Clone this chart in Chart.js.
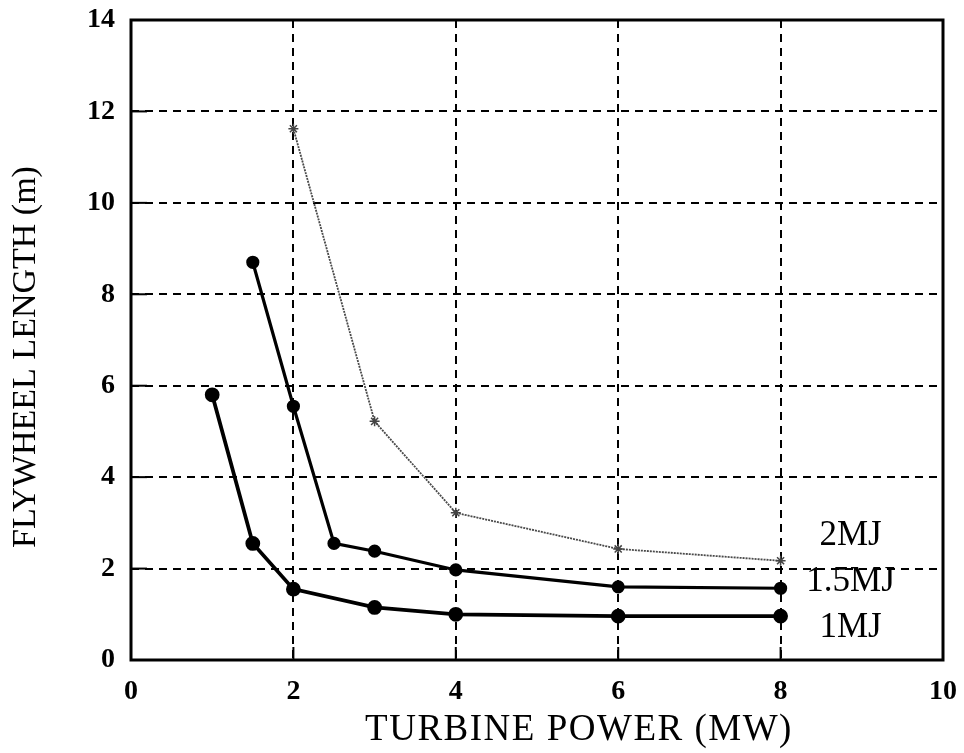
<!DOCTYPE html>
<html>
<head>
<meta charset="utf-8">
<script src="https://cdn.jsdelivr.net/npm/chart.js@4.4.0/dist/chart.umd.min.js"></script>
<style>
  html, body { margin: 0; padding: 0; background: #fff; }
  #wrap { width: 964px; height: 753px; }
</style>
</head>
<body>
<div id="wrap"><canvas id="chart"></canvas></div>
<script>
// turbine power (MW) and flywheel length (m)
const power_1mj = [1, 1.5, 2, 3, 4, 6, 8]
const length_1mj = [5.8, 2.55, 1.55, 1.15, 1.0, 0.96, 0.96]

const power_15mj = [1.5, 2, 2.5, 3, 4, 6, 8]
const length_15mj = [8.7, 5.55, 2.55, 2.38, 1.97, 1.6, 1.57]

const power_2mj = [2, 3, 4, 6, 8]
const length_2mj = [11.62, 5.22, 3.22, 2.43, 2.17]

const x_ticks = [0, 2, 4, 6, 8, 10]
const y_ticks = [0, 2, 4, 6, 8, 10, 12, 14]

const x_title = "TURBINE POWER (MW)"
const y_title = "FLYWHEEL LENGTH (m)"

const pts = (xs, ys) => xs.map((x, i) => ({ x, y: ys[i] }))

const serif = "'Liberation Serif', 'DejaVu Serif', serif"

// frame round the plot area, short solid ticks pointing inwards, axis titles
const framePlugin = {
  id: "frame",
  afterDraw(chart) {
    const { ctx, chartArea: a, scales } = chart
    ctx.save()
    ctx.strokeStyle = "#000"
    ctx.lineWidth = 2
    x_ticks.forEach(v => {
      const px = scales.x.getPixelForValue(v)
      ctx.beginPath()
      ctx.moveTo(px, a.bottom)
      ctx.lineTo(px, a.bottom - 13)
      ctx.stroke()
    })
    y_ticks.forEach(v => {
      const py = scales.y.getPixelForValue(v)
      ctx.beginPath()
      ctx.moveTo(a.left, py)
      ctx.lineTo(a.left + 16, py)
      ctx.stroke()
    })
    ctx.lineWidth = 3
    ctx.strokeRect(a.left, a.top, a.right - a.left, a.bottom - a.top)

    ctx.fillStyle = "#000"
    ctx.textAlign = "center"
    ctx.textBaseline = "middle"
    ctx.font = "37px " + serif
    ctx.letterSpacing = "1.5px"
    ctx.fillText(x_title, (a.left + a.right) / 2 + 42, 730)
    ctx.letterSpacing = "0px"
    ctx.translate(26, (a.top + a.bottom) / 2 + 17)
    ctx.rotate(-Math.PI / 2)
    ctx.font = "34px " + serif
    ctx.fillText(y_title, 0, 0)
    ctx.restore()
  }
}

// series names written next to the last point of each curve
const endLabels = {
  id: "endLabels",
  afterDatasetsDraw(chart, args, opts) {
    const { ctx } = chart
    ctx.save()
    ctx.font = "35px " + serif
    ctx.fillStyle = "#000"
    ctx.textAlign = "center"
    ctx.textBaseline = "middle"
    chart.data.datasets.forEach((ds, i) => {
      const meta = chart.getDatasetMeta(i)
      const last = meta.data[meta.data.length - 1]
      const dy = opts.dy[i] || 0
      ctx.fillText(ds.label, last.x + opts.dx, last.y + dy)
    })
    ctx.restore()
  }
}

new Chart(document.getElementById("chart"), {
  type: "scatter",
  data: {
    datasets: [
      {
        label: "2MJ",
        data: pts(power_2mj, length_2mj),
        showLine: true,
        borderColor: "#4a4a4a",
        borderWidth: 1.8,
        borderDash: [2, 1],
        pointStyle: "star",
        pointRadius: 5,
        pointBorderWidth: 1.5,
        pointBorderColor: "#444",
        pointBackgroundColor: "#fff"
      },
      {
        label: "1.5MJ",
        data: pts(power_15mj, length_15mj),
        showLine: true,
        borderColor: "#000",
        borderWidth: 3.2,
        pointRadius: 5,
        pointBackgroundColor: "#000",
        pointBorderColor: "#000"
      },
      {
        label: "1MJ",
        data: pts(power_1mj, length_1mj),
        showLine: true,
        borderColor: "#000",
        borderWidth: 3.8,
        pointRadius: 5.5,
        pointBackgroundColor: "#000",
        pointBorderColor: "#000"
      }
    ]
  },
  options: {
    responsive: true,
    maintainAspectRatio: false,
    animation: false,
    layout: { padding: { top: 20, right: 21, left: 0, bottom: 0 } },
    plugins: {
      legend: { display: false },
      tooltip: { enabled: false },
      endLabels: { dx: 70, dy: [-25, -6, 12] }
    },
    scales: {
      x: {
        type: "linear",
        min: 0,
        max: 10,
        afterBuildTicks: s => { s.ticks = x_ticks.map(v => ({ value: v })) },
        afterFit: s => {
          s.height = 93
          s.paddingLeft = 0
          s.paddingRight = 0
        },
        grid: { color: "#000", lineWidth: 2, drawTicks: false },
        border: { display: false, dash: [8, 6] },
        ticks: {
          color: "#000",
          padding: 15,
          font: { family: serif, size: 28, weight: "bold" }
        }
      },
      y: {
        type: "linear",
        min: 0,
        max: 14,
        afterBuildTicks: s => { s.ticks = y_ticks.map(v => ({ value: v })) },
        afterFit: s => {
          s.width = 131
          s.paddingTop = 0
          s.paddingBottom = 0
        },
        grid: { color: "#000", lineWidth: 2, drawTicks: false },
        border: { display: false, dash: [8, 6] },
        ticks: {
          color: "#000",
          padding: 16,
          font: { family: serif, size: 28, weight: "bold" }
        }
      }
    }
  },
  plugins: [framePlugin, endLabels]
})
</script>
</body>
</html>
